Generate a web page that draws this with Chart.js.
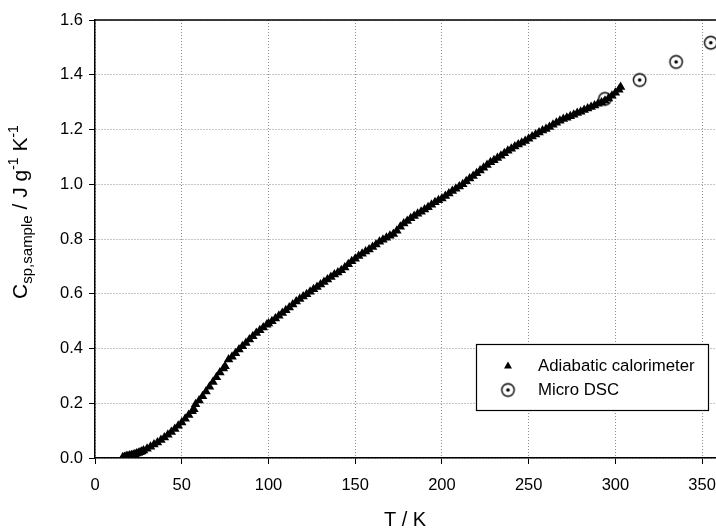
<!DOCTYPE html>
<html>
<head>
<meta charset="utf-8">
<script src="https://cdn.jsdelivr.net/npm/chart.js@4.4.1/dist/chart.umd.min.js"></script>
<style>
  html, body { margin: 0; padding: 0; background: #fff; }
  #wrap { width: 716px; height: 530px; }
</style>
</head>
<body>
<div id="wrap"><canvas id="chart"></canvas></div>
<script>
/* Specific heat of sample vs temperature: adiabatic calorimeter + micro DSC */

const ADIA_T = [16, 17, 18, 19, 20, 21, 22, 23, 24, 25, 26, 27, 28, 30, 32, 34, 36, 38, 40,
  42, 44, 46, 48, 50, 52, 54, 56, 57, 58, 60, 62, 64, 66, 68, 70, 72, 74, 75, 77, 79, 81,
  83, 85, 87, 89, 91, 93, 95, 97, 99,
  100, 102, 104, 106, 108, 110, 112, 114, 116, 118, 120, 122, 124, 126, 128, 130, 132,
  134, 136, 138, 140, 142, 144, 146, 148, 150, 152, 154, 156, 158, 160, 162, 164, 166,
  168, 170, 172, 174, 176, 178, 180, 182, 184, 186, 188, 190, 192, 194, 196, 198, 200,
  202, 204, 206, 208, 210, 212, 214, 216, 218, 220, 222, 224, 226, 228, 230, 232, 234,
  236, 238, 240, 242, 244, 246, 248, 250, 252, 254, 256, 258, 260, 262, 264, 266, 268,
  270, 272, 274, 276, 278, 280, 282, 284, 286, 288, 290, 292, 294, 296, 298, 300, 302, 303];
const ADIA_CP = [0.003, 0.004, 0.006, 0.007, 0.009, 0.010, 0.012, 0.014, 0.016, 0.018,
  0.021, 0.024, 0.027, 0.034, 0.041, 0.049, 0.057, 0.066, 0.075, 0.085, 0.095, 0.106,
  0.118, 0.130, 0.143, 0.157, 0.171, 0.178, 0.196, 0.210, 0.226, 0.243, 0.260, 0.278,
  0.295, 0.312, 0.327, 0.335, 0.360, 0.370, 0.383, 0.396, 0.408, 0.420, 0.433, 0.445,
  0.457, 0.467, 0.477, 0.487,
  0.491, 0.500, 0.510, 0.520, 0.530, 0.540, 0.550, 0.561, 0.572, 0.581, 0.590, 0.598,
  0.607, 0.616, 0.625, 0.634, 0.643, 0.652, 0.661, 0.670, 0.678, 0.686, 0.696, 0.708,
  0.719, 0.728, 0.738, 0.746, 0.754, 0.762, 0.771, 0.780, 0.790, 0.797, 0.805, 0.812,
  0.818, 0.830, 0.845, 0.857, 0.866, 0.876, 0.884, 0.892, 0.900, 0.908, 0.916, 0.925,
  0.934, 0.942, 0.948, 0.957, 0.966, 0.975, 0.984, 0.992, 1.000, 1.011, 1.021, 1.030,
  1.040, 1.050, 1.060, 1.070, 1.080, 1.088, 1.096, 1.104, 1.113, 1.122, 1.130, 1.138,
  1.145, 1.152, 1.158, 1.166, 1.174, 1.182, 1.189, 1.196, 1.202, 1.209, 1.217, 1.225,
  1.232, 1.238, 1.243, 1.248, 1.254, 1.260, 1.265, 1.271, 1.277, 1.282, 1.288, 1.294,
  1.299, 1.305, 1.313, 1.323, 1.334, 1.345, 1.355];

const DSC_T  = [294, 314, 335, 355];
const DSC_CP = [1.312, 1.381, 1.447, 1.517];

const X_TICKS = [0, 50, 100, 150, 200, 250, 300, 350];
const Y_TICKS = [0.0, 0.2, 0.4, 0.6, 0.8, 1.0, 1.2, 1.4, 1.6];

const FONT = "'Liberation Sans', Arial, Helvetica, sans-serif";
const GRID = "#8c8c8c";

function dotCircle(r) {
  const c = document.createElement("canvas");
  const s = Math.ceil(r * 2 + 4);
  c.width = s; c.height = s;
  const g = c.getContext("2d");
  g.strokeStyle = "#000";
  g.lineWidth = 1.4;
  g.beginPath(); g.arc(s / 2, s / 2, r, 0, Math.PI * 2); g.stroke();
  g.fillStyle = "#000";
  g.beginPath(); g.arc(s / 2, s / 2, 1.8, 0, Math.PI * 2); g.fill();
  return c;
}
const DSC_MARK = dotCircle(6.2);

const overlay = {
  id: "overlay",
  // stretch the plot area to the right edge (the original figure is cut off there)
  afterLayout(chart) {
    const a = chart.chartArea;
    a.right = chart.width;
    a.width = a.right - a.left;
    const xs = chart.scales.x;
    xs.right = a.right;
    xs.width = xs.right - xs.left;
    xs.configure();
  },
  afterDraw(chart) {
    const { ctx, chartArea: a } = chart;
    ctx.save();
    // top frame line
    ctx.strokeStyle = "#000";
    ctx.lineWidth = 1.5;
    ctx.beginPath(); ctx.moveTo(a.left, a.top); ctx.lineTo(a.right, a.top); ctx.stroke();

    // x title
    ctx.fillStyle = "#000";
    ctx.font = "20px " + FONT;
    ctx.textAlign = "center";
    ctx.textBaseline = "middle";
    ctx.fillText("T / K", 405, 520);

    // y title with sub/superscripts
    const parts = [
      { t: "C", s: 21, dy: 0 },
      { t: "sp,sample", s: 15, dy: 5 },
      { t: " / J g", s: 21, dy: 0 },
      { t: "-1", s: 14, dy: -9 },
      { t: " K", s: 21, dy: 0 },
      { t: "-1", s: 14, dy: -9 }
    ];
    let total = 0;
    parts.forEach(p => { ctx.font = p.s + "px " + FONT; p.w = ctx.measureText(p.t).width; total += p.w; });
    ctx.translate(27, 212);
    ctx.rotate(-Math.PI / 2);
    ctx.textAlign = "left";
    ctx.textBaseline = "alphabetic";
    let x = -total / 2;
    parts.forEach(p => { ctx.font = p.s + "px " + FONT; ctx.fillText(p.t, x, p.dy); x += p.w; });
    ctx.setTransform(1, 0, 0, 1, 0, 0);

    // legend box
    ctx.fillStyle = "#fff";
    ctx.fillRect(476.5, 344.5, 232, 66);
    ctx.strokeStyle = "#000";
    ctx.lineWidth = 1.2;
    ctx.strokeRect(476.5, 344.5, 232, 66);
    ctx.fillStyle = "#000";
    ctx.beginPath();
    ctx.moveTo(508, 361.5); ctx.lineTo(512, 368.5); ctx.lineTo(504, 368.5); ctx.closePath();
    ctx.fill();
    ctx.drawImage(DSC_MARK, 508 - DSC_MARK.width / 2, 390 - DSC_MARK.height / 2);
    ctx.font = "16.8px " + FONT;
    ctx.textAlign = "left";
    ctx.textBaseline = "middle";
    ctx.fillText("Adiabatic calorimeter", 538, 366);
    ctx.fillText("Micro DSC", 538, 390);
    ctx.restore();
  }
};

new Chart(document.getElementById("chart"), {
  type: "scatter",
  data: {
    datasets: [
      {
        label: "Adiabatic calorimeter",
        data: ADIA_T.map((t, i) => ({ x: t, y: ADIA_CP[i] })),
        pointStyle: "triangle",
        pointRadius: 5.5,
        backgroundColor: "#000",
        borderColor: "#000",
        borderWidth: 0
      },
      {
        label: "Micro DSC",
        data: DSC_T.map((t, i) => ({ x: t, y: DSC_CP[i] })),
        pointStyle: DSC_MARK,
        pointRadius: 6,
        clip: false
      }
    ]
  },
  options: {
    responsive: true,
    maintainAspectRatio: false,
    animation: false,
    devicePixelRatio: 1,
    layout: { padding: { top: 20, right: 0, left: 0, bottom: 0 } },
    plugins: { legend: { display: false }, tooltip: { enabled: false } },
    scales: {
      x: {
        type: "linear",
        min: 0,
        max: 358,
        afterBuildTicks: s => { s.ticks = X_TICKS.map(v => ({ value: v })); },
        afterFit: s => { s.height = 72; },
        ticks: { color: "#000", font: { family: FONT, size: 16.5 }, padding: 12, maxRotation: 0 },
        grid: { color: GRID, tickLength: 6, tickColor: "#000", tickBorderDash: [] },
        border: { color: "#000", width: 1.5, dash: [1, 2] }
      },
      y: {
        min: 0,
        max: 1.6,
        afterBuildTicks: s => { s.ticks = Y_TICKS.map(v => ({ value: v })); },
        afterFit: s => { s.width = 95; },
        ticks: { color: "#000", font: { family: FONT, size: 16.5 }, padding: 6, callback: v => v.toFixed(1) },
        grid: { color: GRID, tickLength: 6, tickColor: "#000", tickBorderDash: [] },
        border: { color: "#000", width: 1.5, dash: [1, 2] }
      }
    }
  },
  plugins: [overlay]
});
</script>
</body>
</html>
